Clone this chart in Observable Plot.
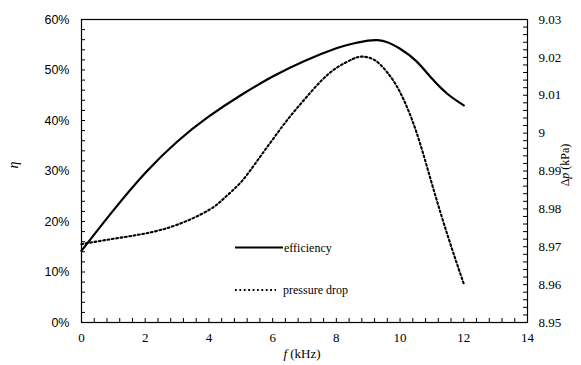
<!DOCTYPE html>
<html>
<head>
<meta charset="utf-8">
<script src="https://cdn.jsdelivr.net/npm/d3@7"></script>
<script src="https://cdn.jsdelivr.net/npm/@observablehq/plot@0.6"></script>
<style>
  html, body { margin: 0; padding: 0; background: #fff; }
  #chart { position: relative; width: 581px; height: 365px; }
</style>
</head>
<body>
<div id="chart"></div>
<script>
// Efficiency (left axis, %)
const effF   = [0, 1, 2, 3, 4, 5, 6, 7, 8, 8.5, 9, 9.3, 9.6, 10, 10.5, 11, 11.5, 12];
const effVal = [14.2, 22.2, 29.6, 35.8, 40.8, 45.0, 48.7, 51.8, 54.3, 55.2, 55.8, 55.9, 55.5, 54.2, 51.8, 48.3, 45.2, 43.0];

// Pressure drop (right axis, kPa)
const dpF   = [0, 1, 2, 3, 4, 4.5, 5, 5.5, 6, 6.5, 7, 7.5, 8, 8.5, 8.8, 9.2, 9.6, 10, 10.5, 11, 11.5, 12];
const dpVal = [8.9707, 8.9721, 8.9735, 8.9758, 8.9797, 8.9830, 8.9870, 8.9925, 8.9983, 9.0039, 9.0089, 9.0136, 9.0172, 9.0195, 9.0202, 9.0193, 9.0160, 9.0108, 9.0006, 8.9866, 8.9728, 8.9602];

// Axis ticks
const xTicks = [0, 2, 4, 6, 8, 10, 12, 14];
const leftTicks = [0, 10, 20, 30, 40, 50, 60];
const rightTicks = [8.95, 8.96, 8.97, 8.98, 8.99, 9.00, 9.01, 9.02, 9.03];
const legendLabels = ["efficiency", "pressure drop"];

// right-axis domain mapped onto the left scale
const dpMin = 8.95, dpMax = 9.03, etaMax = 60;
const toY = p => (p - dpMin) / (dpMax - dpMin) * etaMax;
const fromY = y => dpMin + y / etaMax * (dpMax - dpMin);

const effData = effF.map((f, i) => ({f, v: effVal[i]}));
const dpData = dpF.map((f, i) => ({f, v: dpVal[i]}));

const W = 581, H = 365;
const mL = 81, mR = 54, mT = 19, mB = 43;
const pw = W - mL - mR, ph = H - mT - mB;

const xMinor = d3.range(0, 14.0001, 0.4).map(d => +d.toFixed(2));
const yMinor = d3.range(0, 60.0001, 2);
const rMinor = d3.range(dpMin, dpMax + 1e-9, 0.002).map(toY);

const serif = "'Liberation Serif', 'Times New Roman', serif";
const sans = "'Liberation Sans', Arial, sans-serif";

const plot = Plot.plot({
  width: W, height: H,
  marginLeft: mL, marginRight: mR, marginTop: mT, marginBottom: mB,
  style: {background: "white", color: "black", overflow: "visible"},
  x: {domain: [0, 14]},
  y: {domain: [0, 60]},
  marks: [
    // inner minor ticks
    Plot.tickX(xMinor, {x: d => d, stroke: "black", strokeWidth: 1, insetTop: ph - 4}),
    Plot.tickY(yMinor, {y: d => d, stroke: "black", strokeWidth: 1, insetRight: pw - 4}),
    Plot.tickY(rMinor, {y: d => d, stroke: "black", strokeWidth: 1, insetLeft: pw - 4}),
    // axes
    Plot.axisX(xTicks, {tickSize: 0, tickPadding: 10, fontSize: 13, fontFamily: serif, label: null}),
    Plot.axisY(leftTicks, {anchor: "left", tickSize: 0, tickPadding: 12, fontSize: 12.5, fontFamily: sans,
      tickFormat: d => d + "%", label: null}),
    Plot.axisY(rightTicks.map(toY), {anchor: "right", tickSize: 0, tickPadding: 11, fontSize: 13, fontFamily: serif,
      tickFormat: d => String(+fromY(d).toFixed(2)), label: null}),
    // curves
    Plot.line(effData, {x: "f", y: "v", stroke: "black", strokeWidth: 2.2, curve: "natural"}),
    Plot.line(dpData, {x: "f", y: d => toY(d.v), stroke: "black", strokeWidth: 2.1,
      strokeDasharray: "1.8,2.6", curve: "natural"}),
    Plot.frame({stroke: "black", strokeWidth: 1.2})
  ]
});

document.getElementById("chart").appendChild(plot);

const svg = d3.select(plot);

// enforce fonts on axis labels
const yLabelGroups = svg.selectAll('g[aria-label="y-axis tick label"]').nodes();
svg.selectAll('g[aria-label="x-axis tick label"] text').style("font-family", serif).style("font-size", "13px");
if (yLabelGroups[0]) d3.select(yLabelGroups[0]).selectAll("text").style("font-family", sans).style("font-size", "12.5px");
if (yLabelGroups[1]) d3.select(yLabelGroups[1]).selectAll("text").style("font-family", serif).style("font-size", "13px");

// axis titles
const g = svg.append("g").attr("fill", "black").style("font-family", serif).attr("text-anchor", "middle");

const xt = g.append("text").attr("x", 302).attr("y", 358).style("font-size", "13px");
xt.append("tspan").style("font-style", "italic").text("f");
xt.append("tspan").text(" (kHz)");

g.append("text").attr("transform", "translate(18,165) rotate(-90)")
  .style("font-size", "14px").style("font-style", "italic").text("η");

const rt = g.append("text").attr("transform", "translate(569,165) rotate(-90)").style("font-size", "12px");
rt.append("tspan").text("Δ");
rt.append("tspan").style("font-style", "italic").text("p");
rt.append("tspan").text(" (kPa)");

// legend
const lg = svg.append("g").style("font-family", serif).style("font-size", "12px").attr("text-anchor", "start");
lg.append("line").attr("x1", 235).attr("x2", 283).attr("y1", 247.5).attr("y2", 247.5)
  .attr("stroke", "black").attr("stroke-width", 2.2);
lg.append("text").attr("x", 284).attr("y", 251.5).attr("text-anchor", "start").text(legendLabels[0]);
lg.append("line").attr("x1", 235).attr("x2", 276).attr("y1", 290).attr("y2", 290)
  .attr("stroke", "black").attr("stroke-width", 2.1).attr("stroke-dasharray", "1.8,2.6");
lg.append("text").attr("x", 283).attr("y", 294).attr("text-anchor", "start").text(legendLabels[1]);
</script>
</body>
</html>
